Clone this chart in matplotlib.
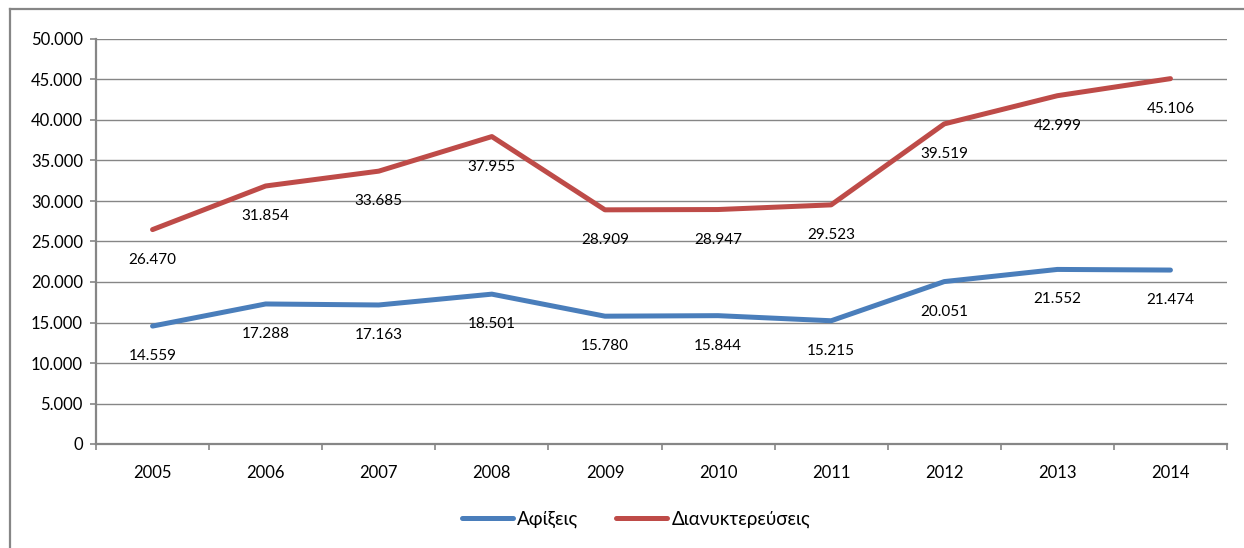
import matplotlib
matplotlib.use("Agg")
import matplotlib.pyplot as plt
from matplotlib.lines import Line2D
import numpy as np

years = ["2005", "2006", "2007", "2008", "2009", "2010", "2011", "2012", "2013", "2014"]
arrivals = [14559, 17288, 17163, 18501, 15780, 15844, 15215, 20051, 21552, 21474]
overnights = [26470, 31854, 33685, 37955, 28909, 28947, 29523, 39519, 42999, 45106]
series_names = ["Αφίξεις", "Διανυκτερεύσεις"]
y_ticks = [0, 5000, 10000, 15000, 20000, 25000, 30000, 35000, 40000, 45000, 50000]

BLUE = "#4A7EBB"
RED = "#BE4B48"
GRID = "#868686"

plt.rcParams["font.family"] = ["Lato", "DejaVu Sans"]


def fmt(v):
    return f"{v:,}".replace(",", ".") if v else "0"


fig = plt.figure(figsize=(12.44, 5.48), dpi=100)
ax = fig.add_axes([96 / 1244, 1 - 444 / 548, (1227 - 96) / 1244, (444 - 39) / 548])

x = np.arange(len(years))
ax.plot(x, arrivals, color=BLUE, lw=3.6, solid_capstyle="round", zorder=3)
ax.plot(x, overnights, color=RED, lw=3.6, solid_capstyle="round", zorder=3)

for xi, v in zip(x, arrivals):
    ax.annotate(fmt(v), (xi, v), xytext=(0, -30), textcoords="offset pixels",
                ha="center", va="center", fontsize=11, color="black", zorder=4)
for xi, v in zip(x, overnights):
    ax.annotate(fmt(v), (xi, v), xytext=(0, -30), textcoords="offset pixels",
                ha="center", va="center", fontsize=11, color="black", zorder=4)

ax.set_xlim(-0.5, len(years) - 0.5)
ax.set_ylim(0, 50000)
ax.set_yticks(y_ticks)
ax.set_yticklabels([fmt(v) for v in y_ticks], fontsize=12)
ax.set_xticks(x)
ax.set_xticklabels(years, fontsize=12)
ax.set_xticks(np.arange(-0.5, len(years)), minor=True)

ax.tick_params(axis="x", which="major", length=0, pad=15)
ax.tick_params(axis="x", which="minor", length=4.5, width=1.2, color=GRID, direction="out")
ax.tick_params(axis="y", length=4.5, width=1.2, color=GRID, pad=5)

ax.grid(axis="y", color=GRID, lw=1.0, zorder=0)
ax.set_axisbelow(True)
for side in ("top", "right"):
    ax.spines[side].set_visible(False)
for side in ("left", "bottom"):
    ax.spines[side].set_color(GRID)
    ax.spines[side].set_linewidth(1.6)

handles = [Line2D([], [], color=BLUE, lw=3.6, solid_capstyle="round"),
           Line2D([], [], color=RED, lw=3.6, solid_capstyle="round")]
fig.legend(handles, series_names, loc="center", bbox_to_anchor=(636 / 1244, 1 - 519 / 548),
           ncol=2, frameon=False, fontsize=13.5, handlelength=2.7, handletextpad=0.25,
           columnspacing=2.0)

# chart frame (left and top edges)
fig.add_artist(Line2D([10 / 1244, 10 / 1244], [0, 1 - 9 / 548], transform=fig.transFigure,
                      color=GRID, lw=1.6))
fig.add_artist(Line2D([10 / 1244, 1], [1 - 9 / 548, 1 - 9 / 548], transform=fig.transFigure,
                      color=GRID, lw=1.6))

fig.savefig("out.png", dpi=100, facecolor="white")
